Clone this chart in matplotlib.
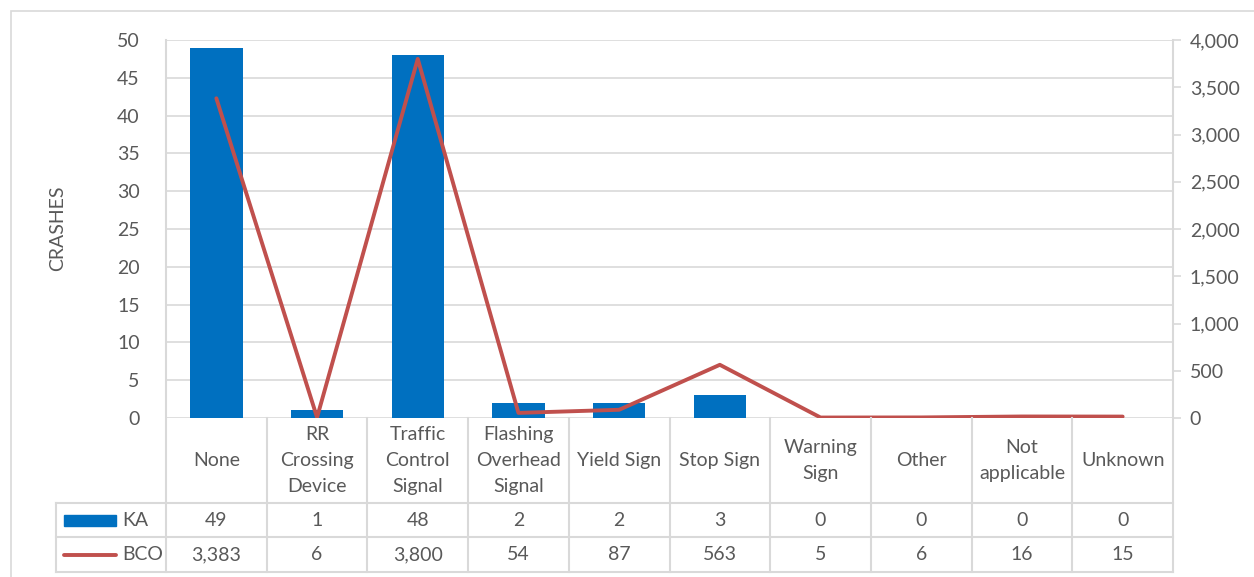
import numpy as np
import matplotlib.pyplot as plt
from matplotlib.patches import Rectangle
from matplotlib.lines import Line2D

# data
categories = ['None', 'RR\nCrossing\nDevice', 'Traffic\nControl\nSignal', 'Flashing\nOverhead\nSignal',
              'Yield Sign', 'Stop Sign', 'Warning\nSign', 'Other', 'Not\napplicable', 'Unknown']
ka = [49, 1, 48, 2, 2, 3, 0, 0, 0, 0]
bco = [3383, 6, 3800, 54, 87, 563, 5, 6, 16, 15]
left_ticks = [0, 5, 10, 15, 20, 25, 30, 35, 40, 45, 50]
right_ticks = [0, 500, 1000, 1500, 2000, 2500, 3000, 3500, 4000]

plt.rcParams['font.family'] = ['Lato', 'DejaVu Sans']
txt = '#595959'
grid = '#D9D9D9'
blue = '#0070C0'
red = '#C0504D'
fs = 14

W, H = 1254, 577
fig = plt.figure(figsize=(W / 100, H / 100), dpi=100)

def fx(px):
    return px / W

def fy(py):
    return 1 - py / H

# outer border
fig.patches.append(Rectangle((fx(11), fy(H + 5)), fx(W), fy(11) - fy(H + 5), transform=fig.transFigure,
                             fill=False, edgecolor=grid, linewidth=1.2))

x0, x1, ytop, ybot = 166, 1173, 40, 418
ax = fig.add_axes([fx(x0), fy(ybot), fx(x1) - fx(x0), fy(ytop) - fy(ybot)])
n = len(categories)
x = np.arange(n)
ax.bar(x, ka, width=0.52, color=blue, zorder=2)
ax.set_xlim(-0.5, n - 0.5)
ax.set_ylim(0, 50)
ax.set_yticks(left_ticks)
ax.set_xticks([])
ax.grid(axis='y', color=grid, linewidth=1.2, zorder=0)
for s in ax.spines.values():
    s.set_visible(False)
ax.tick_params(axis='y', length=0, labelsize=fs, labelcolor=txt, pad=19)
fig.text(fx(58), fy(228), 'CRASHES', rotation=90, ha='center', va='center', fontsize=fs, color=txt)

ax2 = ax.twinx()
ax2.plot(x, bco, color=red, linewidth=2.8, solid_capstyle='round', zorder=3)
ax2.set_ylim(0, 4000)
ax2.set_yticks(right_ticks)
ax2.set_yticklabels([f'{v:,}' for v in right_ticks])
for s in ax2.spines.values():
    s.set_visible(False)
ax2.tick_params(axis='y', length=6, color=grid, width=1.2, labelsize=fs, labelcolor=txt, pad=6)

# data table
cw = (x1 - x0) / n
rows = [418, 503, 537, 572]
lab_x0 = 56
lk = dict(color=grid, linewidth=1.5, transform=fig.transFigure)
# vertical lines
fig.add_artist(Line2D([fx(x0), fx(x0)], [fy(ytop), fy(rows[3])], **lk))
fig.add_artist(Line2D([fx(x1), fx(x1)], [fy(ytop), fy(rows[3])], **lk))
for i in range(1, n):
    xx = x0 + i * cw
    fig.add_artist(Line2D([fx(xx), fx(xx)], [fy(rows[0]), fy(rows[3])], **lk))
fig.add_artist(Line2D([fx(lab_x0), fx(lab_x0)], [fy(rows[1]), fy(rows[3])], **lk))
# horizontal lines
fig.add_artist(Line2D([fx(lab_x0), fx(x1)], [fy(rows[1]), fy(rows[1])], **lk))
fig.add_artist(Line2D([fx(lab_x0), fx(x1)], [fy(rows[2]), fy(rows[2])], **lk))
fig.add_artist(Line2D([fx(lab_x0), fx(x1)], [fy(rows[3]), fy(rows[3])], **lk))

for i, c in enumerate(categories):
    cx = x0 + (i + 0.5) * cw
    fig.text(fx(cx), fy((rows[0] + rows[1]) / 2), c, ha='center', va='center', fontsize=fs,
             color=txt, linespacing=1.62)
    fig.text(fx(cx), fy((rows[1] + rows[2]) / 2), f'{ka[i]:,}', ha='center', va='center',
             fontsize=fs, color=txt)
    fig.text(fx(cx), fy((rows[2] + rows[3]) / 2), f'{bco[i]:,}', ha='center', va='center',
             fontsize=fs, color=txt)

# legend keys in table
fig.patches.append(Rectangle((fx(64), fy(526)), fx(116) - fx(64), fy(515) - fy(526),
                             transform=fig.transFigure, color=blue))
fig.text(fx(122), fy(520), 'KA', ha='left', va='center', fontsize=fs, color=txt)
fig.add_artist(Line2D([fx(64), fx(116)], [fy(555), fy(555)], color=red, linewidth=2.8,
                      solid_capstyle='round', transform=fig.transFigure))
fig.text(fx(122), fy(555), 'BCO', ha='left', va='center', fontsize=fs, color=txt)

fig.savefig('out.png', dpi=100)
